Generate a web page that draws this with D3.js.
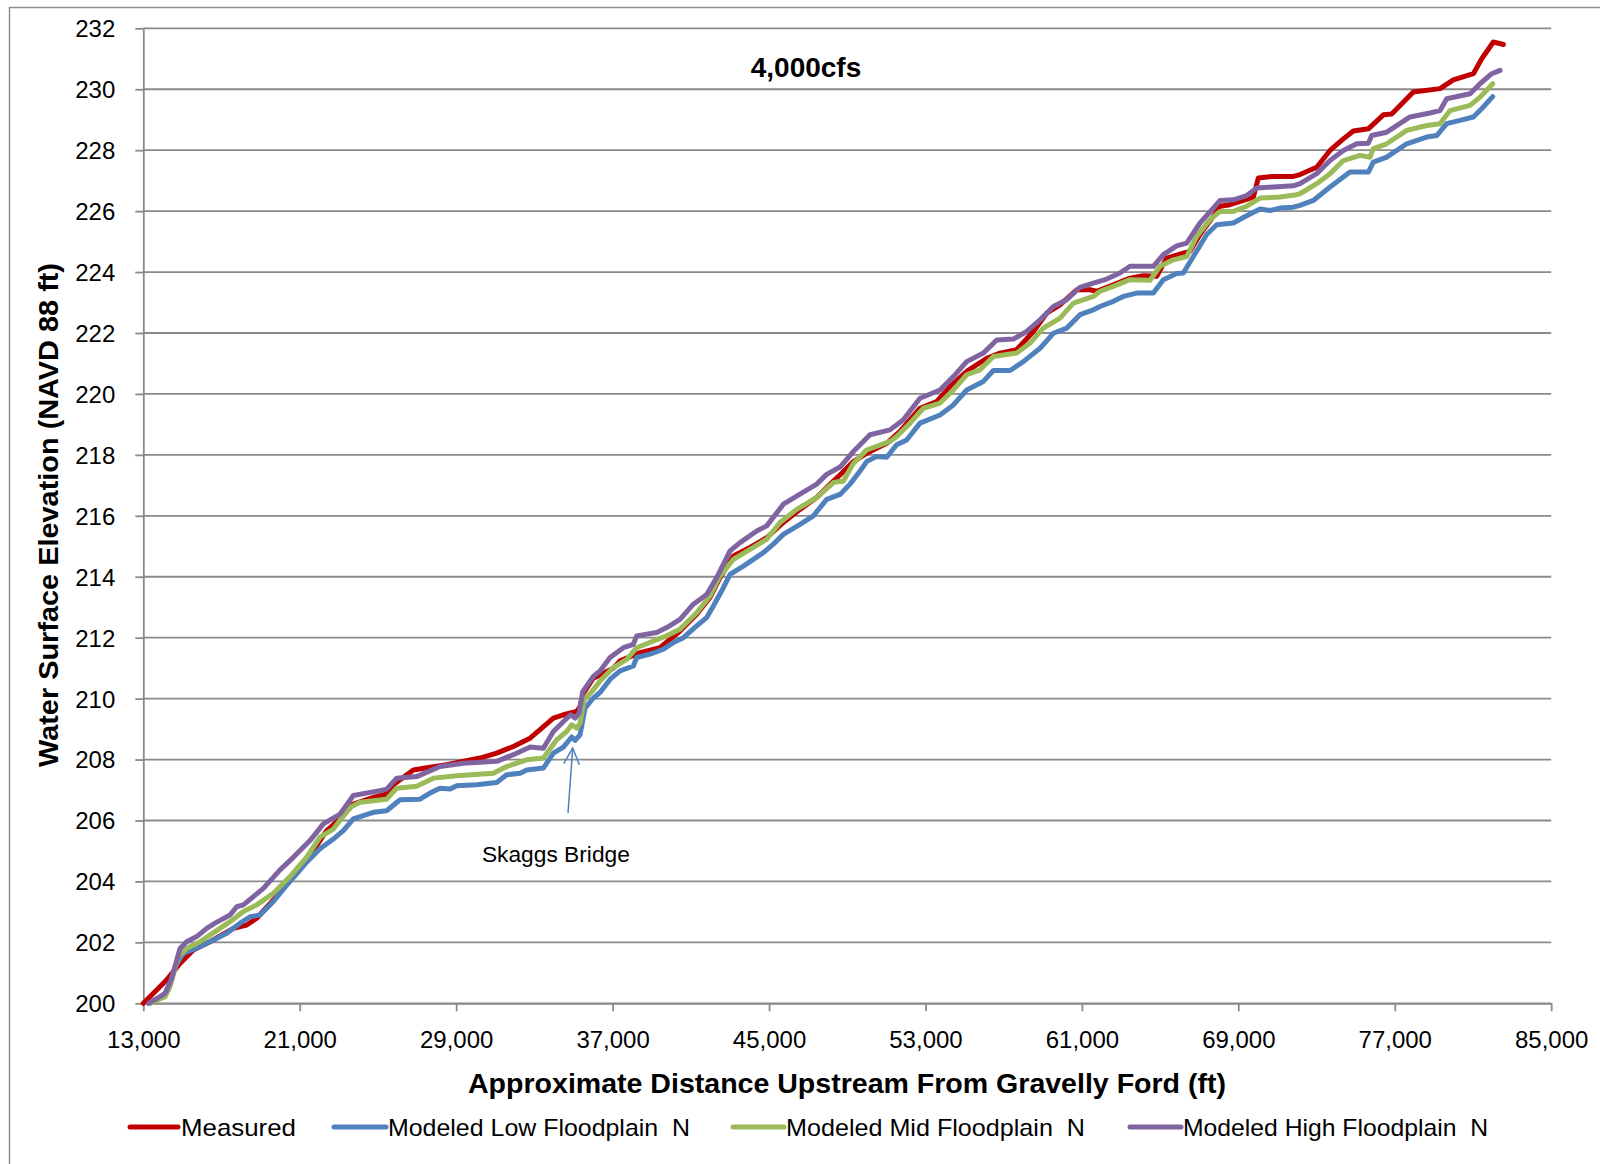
<!DOCTYPE html>
<html>
<head>
<meta charset="utf-8">
<script src="https://cdn.jsdelivr.net/npm/d3@7"></script>
<style>
  html, body { margin: 0; padding: 0; background: #fff; }
  svg { display: block; }
  text { font-family: "Liberation Sans", Arial, sans-serif; fill: #000; }
</style>
</head>
<body>
<svg id="chart" width="1600" height="1164"></svg>
<script>
// ---------- data ----------
const chartTitle = "4,000cfs";
const xTitle = "Approximate Distance Upstream From Gravelly Ford (ft)";
const yTitle = "Water Surface Elevation (NAVD 88 ft)";
const xTicks = [13000, 21000, 29000, 37000, 45000, 53000, 61000, 69000, 77000, 85000];
const yTicks = [200, 202, 204, 206, 208, 210, 212, 214, 216, 218, 220, 222, 224, 226, 228, 230, 232];
const seriesNames = ["Measured", "Modeled Low Floodplain  N", "Modeled Mid Floodplain  N", "Modeled High Floodplain  N"];
const seriesColors = ["#C00000", "#4F81BD", "#9BBB59", "#8064A2"];

const measured = [
  [13000,200.0],[13685,200.44],[14197,200.77],[14878,201.31],[15560,201.75],[16412,202.02],[17606,202.46],
  [18288,202.57],[18799,202.79],[19652,203.39],[20502,204.03],[21013,204.46],[21695,205.01],[22377,205.67],
  [23059,206.05],[23741,206.54],[24764,206.76],[25446,206.87],[25787,207.17],[26810,207.66],[27663,207.75],
  [28515,207.83],[30220,208.05],[31073,208.21],[31925,208.43],[32778,208.7],[33289,208.98],[33971,209.36],
  [34483,209.47],[35165,209.58],[35335,209.74],[35506,210.18],[36017,210.67],[37040,211.0],[37379,211.24],
  [38402,211.51],[39425,211.67],[40448,212.22],[41301,212.77],[41983,213.32],[42494,213.97],[43176,214.68],
  [44028,214.96],[44881,215.28],[45734,215.78],[46586,216.21],[47439,216.6],[48291,217.14],[48629,217.34],
  [49311,217.78],[49993,218.05],[51016,218.38],[51698,218.77],[52721,219.53],[53574,219.75],[54256,220.24],
  [55108,220.74],[56131,221.17],[56813,221.34],[57666,221.45],[58518,222.05],[59200,222.65],[59882,222.92],
  [60735,223.42],[61414,223.42],[61755,223.37],[62607,223.58],[63460,223.8],[64142,223.88],[64823,223.86],
  [65335,224.46],[66187,224.62],[66529,224.68],[67040,225.23],[67722,225.83],[68063,226.16],[68574,226.21],
  [69256,226.35],[69768,226.46],[70024,227.09],[70791,227.14],[71814,227.14],[72154,227.2],[73007,227.44],
  [73689,227.99],[74371,228.37],[74882,228.63],[75649,228.7],[76417,229.16],[76843,229.19],[77951,229.91],
  [79315,230.02],[79997,230.31],[81020,230.51],[81446,231.0],[82043,231.55],[82555,231.47]
];

const modeledLow = [
  [13344,200.0],[14026,200.22],[14282,200.44],[14623,201.2],[15049,201.64],[15901,201.86],[16583,202.08],
  [17265,202.3],[17947,202.63],[18458,202.84],[18970,202.9],[19652,203.34],[20334,203.88],[20843,204.25],
  [21355,204.63],[22037,205.07],[22719,205.39],[23230,205.67],[23741,206.05],[24764,206.27],[25446,206.32],
  [26128,206.68],[27151,206.7],[27663,206.9],[28174,207.06],[28685,207.03],[29026,207.14],[30049,207.17],
  [31073,207.25],[31584,207.5],[32266,207.55],[32607,207.66],[33460,207.72],[33971,208.21],[34483,208.41],
  [34909,208.74],[35079,208.63],[35335,208.81],[35591,209.69],[36017,210.02],[36356,210.2],[36868,210.63],
  [37379,210.91],[38061,211.07],[38232,211.35],[38914,211.46],[39596,211.62],[40107,211.84],[40619,212.0],
  [41301,212.39],[41812,212.66],[42153,213.04],[42665,213.64],[43006,214.08],[43688,214.35],[44711,214.79],
  [45222,215.07],[45734,215.39],[46586,215.72],[47268,216.0],[47950,216.54],[48632,216.7],[49143,217.04],
  [49655,217.47],[49993,217.78],[50505,217.95],[51016,217.92],[51528,218.33],[52039,218.49],[52721,219.04],
  [53744,219.31],[54426,219.64],[55108,220.13],[55961,220.41],[56472,220.77],[57325,220.77],[58007,221.06],
  [58859,221.5],[59541,221.99],[60223,222.16],[60905,222.6],[61587,222.76],[61925,222.87],[62607,223.04],
  [63119,223.2],[63801,223.31],[64653,223.31],[65165,223.75],[65847,223.95],[66187,223.97],[66699,224.51],
  [67381,225.23],[67893,225.55],[68745,225.61],[69427,225.85],[70109,226.07],[70621,226.02],[71132,226.1],
  [71814,226.13],[72154,226.19],[72836,226.35],[73689,226.79],[74712,227.28],[75649,227.28],[75905,227.61],
  [76587,227.77],[77610,228.21],[78633,228.43],[79145,228.48],[79656,228.87],[80338,228.98],[81020,229.09],
  [81446,229.36],[82008,229.76]
];

const modeledMid = [
  [13344,200.0],[14111,200.22],[14367,200.55],[14793,201.53],[15219,201.8],[15901,202.02],[16668,202.35],
  [17435,202.68],[18117,203.01],[18799,203.23],[19652,203.61],[20504,204.16],[21355,204.8],[22037,205.45],
  [22719,205.72],[23571,206.43],[24082,206.6],[25446,206.7],[25958,207.06],[26981,207.12],[27833,207.39],
  [29026,207.47],[30902,207.55],[31584,207.77],[32607,207.99],[33460,208.05],[34142,208.65],[34653,208.92],
  [34909,209.14],[35165,209.03],[35335,209.2],[35540,209.96],[36017,210.29],[36356,210.58],[37038,211.02],
  [37720,211.29],[38232,211.67],[39084,211.89],[39766,212.06],[40448,212.28],[41301,212.82],[41983,213.37],
  [42494,214.03],[43176,214.57],[44028,214.9],[44881,215.23],[45563,215.78],[46416,216.21],[47439,216.6],
  [48291,217.09],[48803,217.14],[49311,217.72],[49993,218.16],[51187,218.44],[51528,218.6],[52209,219.04],
  [52891,219.53],[53744,219.7],[54426,220.13],[55108,220.63],[55790,220.79],[56472,221.23],[57666,221.34],
  [58348,221.67],[59030,222.16],[59882,222.49],[60564,222.98],[61587,223.2],[61925,223.37],[62607,223.53],
  [63460,223.75],[64483,223.73],[64994,224.19],[65676,224.4],[66358,224.51],[66870,225.17],[67552,225.72],
  [68063,225.99],[68745,225.99],[69427,226.16],[70109,226.43],[71132,226.46],[71985,226.54],[72154,226.57],
  [73007,226.9],[73689,227.23],[74371,227.66],[75224,227.83],[75734,227.77],[75905,228.05],[76587,228.21],
  [77610,228.65],[78633,228.81],[79315,228.87],[79827,229.3],[80850,229.47],[81361,229.74],[82008,230.18]
];

const modeledHigh = [
  [13258,200.0],[13855,200.22],[14111,200.33],[14452,200.82],[14878,201.8],[15219,202.02],[15731,202.19],
  [16242,202.46],[16668,202.63],[17435,202.9],[17776,203.17],[18117,203.23],[19140,203.77],[19993,204.38],
  [20672,204.79],[21525,205.34],[22207,205.89],[23059,206.21],[23741,206.82],[25105,206.98],[25446,207.03],
  [25958,207.39],[26981,207.44],[28174,207.77],[29367,207.88],[31073,207.94],[31925,208.16],[32778,208.41],
  [33460,208.37],[33971,208.92],[34568,209.3],[34858,209.47],[35079,209.36],[35284,209.52],[35471,210.23],
  [36017,210.73],[36356,210.91],[36868,211.35],[37550,211.67],[38061,211.78],[38232,212.06],[39255,212.17],
  [39766,212.33],[40448,212.6],[41130,213.1],[41812,213.42],[42324,213.97],[43006,214.85],[43517,215.12],
  [44369,215.5],[44881,215.67],[45734,216.38],[46586,216.71],[47439,217.04],[47950,217.36],[48632,217.6],
  [49311,218.11],[50164,218.66],[51187,218.82],[51869,219.15],[52721,219.86],[53744,220.13],[54426,220.57],
  [55108,221.06],[55961,221.34],[56643,221.77],[57495,221.8],[58177,222.05],[58859,222.43],[59541,222.87],
  [60223,223.09],[60905,223.5],[61584,223.64],[62266,223.77],[62948,223.97],[63460,224.19],[64653,224.19],
  [65165,224.57],[65847,224.86],[66358,224.95],[67040,225.61],[67722,226.1],[68063,226.35],[68745,226.37],
  [69427,226.51],[69938,226.76],[70791,226.79],[71814,226.83],[72154,226.9],[73007,227.23],[73689,227.66],
  [74371,227.99],[75053,228.21],[75649,228.23],[75820,228.48],[76587,228.59],[77781,229.09],[78804,229.22],
  [79315,229.3],[79656,229.69],[80850,229.85],[81361,230.18],[81958,230.51],[82384,230.62]
];

const annotationText = "Skaggs Bridge";
const annotationArrow = { fromX: 34720, fromY: 206.25, toX: 34960, toY: 208.38 };
const annotationLabel = { x: 34100, y: 204.9 };

// ---------- chart ----------
const svg = d3.select("#chart");
const plot = { left: 143.3, right: 1551.2, top: 28.3, bottom: 1003.3 };
const gridColor = "#8a8a8a";

svg.append("rect").attr("x", 9.5).attr("y", 7.5).attr("width", 1700).attr("height", 1300)
  .attr("fill", "none").attr("stroke", "#8f8f8f").attr("stroke-width", 1.5);

const x = d3.scaleLinear().domain([13000, 85000]).range([plot.left, plot.right]);
const y = d3.scaleLinear().domain([200, 232]).range([plot.bottom, plot.top]);

// gridlines
svg.append("g").selectAll("line").data(yTicks).join("line")
  .attr("x1", plot.left).attr("x2", plot.right)
  .attr("y1", d => y(d)).attr("y2", d => y(d))
  .attr("stroke", gridColor).attr("stroke-width", 1.8);

// axes
const xAxis = svg.append("g").attr("transform", `translate(0,${plot.bottom})`)
  .call(d3.axisBottom(x).tickValues(xTicks).tickFormat(d3.format(",")).tickSizeInner(8).tickSizeOuter(0).tickPadding(20));
const yAxis = svg.append("g").attr("transform", `translate(${plot.left},0)`)
  .call(d3.axisLeft(y).tickValues(yTicks).tickFormat(d3.format("d")).tickSizeInner(8).tickSizeOuter(0).tickPadding(20));
[xAxis, yAxis].forEach(g => {
  g.select(".domain").attr("stroke", gridColor).attr("stroke-width", 1.8);
  g.selectAll(".tick line").attr("stroke", gridColor).attr("stroke-width", 1.8);
  g.selectAll(".tick text").attr("font-size", 24).attr("font-family", "Liberation Sans, Arial, sans-serif").attr("fill", "#000");
});
yAxis.selectAll(".tick text").attr("dy", "0.35em");

// series
const allSeries = [measured, modeledLow, modeledMid, modeledHigh];
const line = d3.line().x(d => x(d[0])).y(d => y(d[1])).curve(d3.curveLinear);
svg.append("g").selectAll("path").data(allSeries).join("path")
  .attr("d", line)
  .attr("fill", "none")
  .attr("stroke", (d, i) => seriesColors[i])
  .attr("stroke-width", 5)
  .attr("stroke-linejoin", "round")
  .attr("stroke-linecap", "round");

// title
svg.append("text").attr("x", 806).attr("y", 77).attr("text-anchor", "middle")
  .attr("font-size", 28).attr("font-weight", "bold").text(chartTitle);

// axis titles
svg.append("text").attr("x", 847).attr("y", 1093).attr("text-anchor", "middle")
  .attr("font-size", 28).attr("font-weight", "bold")
  .attr("textLength", 758).attr("lengthAdjust", "spacingAndGlyphs").text(xTitle);
svg.append("text").attr("transform", "translate(58,515) rotate(-90)").attr("text-anchor", "middle")
  .attr("font-size", 28).attr("font-weight", "bold")
  .attr("textLength", 504).attr("lengthAdjust", "spacingAndGlyphs").text(yTitle);

// annotation
const ann = svg.append("g");
const ax1 = x(annotationArrow.fromX), ay1 = y(annotationArrow.fromY);
const ax2 = x(annotationArrow.toX), ay2 = y(annotationArrow.toY);
ann.append("line").attr("x1", ax1).attr("y1", ay1).attr("x2", ax2).attr("y2", ay2)
  .attr("stroke", "#4F81BD").attr("stroke-width", 1.5);
const ang = Math.atan2(ay2 - ay1, ax2 - ax1);
const hl = 18, ha = 0.45;
ann.append("path")
  .attr("d", `M${ax2 - hl * Math.cos(ang - ha)},${ay2 - hl * Math.sin(ang - ha)} L${ax2},${ay2} L${ax2 - hl * Math.cos(ang + ha)},${ay2 - hl * Math.sin(ang + ha)}`)
  .attr("fill", "none").attr("stroke", "#4F81BD").attr("stroke-width", 1.5);
ann.append("text").attr("x", x(annotationLabel.x)).attr("y", y(annotationLabel.y) + 8)
  .attr("text-anchor", "middle").attr("font-size", 22)
  .attr("textLength", 148).attr("lengthAdjust", "spacingAndGlyphs").text(annotationText);

// legend
const legendY = 1127;
const legendItems = [
  { x1: 130, x2: 178, tx: 181, tw: 115 },
  { x1: 334, x2: 386, tx: 388, tw: 302 },
  { x1: 733, x2: 784, tx: 786, tw: 299 },
  { x1: 1130, x2: 1181, tx: 1183, tw: 305 }
];
const lg = svg.append("g").selectAll("g").data(legendItems).join("g");
lg.append("line").attr("x1", d => d.x1).attr("x2", d => d.x2).attr("y1", legendY).attr("y2", legendY)
  .attr("stroke", (d, i) => seriesColors[i]).attr("stroke-width", 5).attr("stroke-linecap", "round");
lg.append("text").attr("x", d => d.tx).attr("y", legendY + 9).attr("font-size", 24)
  .attr("textLength", d => d.tw).attr("lengthAdjust", "spacingAndGlyphs")
  .style("white-space", "pre")
  .text((d, i) => seriesNames[i]);
</script>
</body>
</html>
